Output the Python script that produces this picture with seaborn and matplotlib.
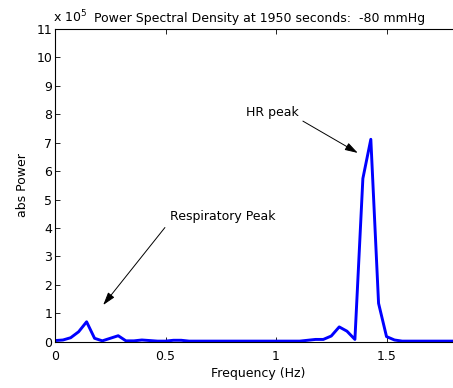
import matplotlib
matplotlib.use("Agg")
import matplotlib.pyplot as plt
import seaborn as sns
import pandas as pd

# Frequency bins (Hz) and PSD values (x 10^5)
freq_hz = [0.000, 0.036, 0.071, 0.107, 0.143, 0.179, 0.214, 0.250, 0.286, 0.321,
           0.357, 0.393, 0.429, 0.464, 0.500, 0.536, 0.571, 0.607, 0.643, 0.679,
           0.714, 0.750, 0.786, 0.821, 0.857, 0.893, 0.929, 0.964, 1.000, 1.036,
           1.071, 1.107, 1.143, 1.179, 1.214, 1.250, 1.286, 1.321, 1.357, 1.393,
           1.429, 1.464, 1.500, 1.536, 1.571, 1.607, 1.643, 1.679, 1.714, 1.750,
           1.786, 1.821, 1.857]
power_e5 = [0.04, 0.06, 0.14, 0.35, 0.70, 0.12, 0.03, 0.12, 0.21, 0.03,
            0.03, 0.06, 0.04, 0.02, 0.02, 0.05, 0.05, 0.02, 0.02, 0.02,
            0.02, 0.02, 0.02, 0.02, 0.02, 0.02, 0.02, 0.02, 0.02, 0.02,
            0.02, 0.02, 0.05, 0.08, 0.08, 0.20, 0.52, 0.37, 0.08, 5.74,
            7.12, 1.35, 0.18, 0.06, 0.02, 0.02, 0.02, 0.02, 0.02, 0.02,
            0.02, 0.02, 0.02]

x_ticks = [0, 0.5, 1, 1.5]
x_tick_labels = ["0", "0.5", "1", "1.5"]
y_ticks = list(range(0, 12))

df = pd.DataFrame({"freq": freq_hz, "power": power_e5})

sns.set_style("ticks")
plt.rcParams["font.family"] = ["DejaVu Sans"]
plt.rcParams["xtick.direction"] = "in"
plt.rcParams["ytick.direction"] = "in"
for k in ["text.color", "axes.labelcolor", "xtick.color", "ytick.color",
          "xtick.labelcolor", "ytick.labelcolor", "axes.edgecolor"]:
    plt.rcParams[k] = "black"
FS = 9

fig = plt.figure(figsize=(4.53, 3.88), dpi=100)
L, B = 55 / 453, 1 - 341.7 / 388
W = (461 - 55) / 453
H = (341.7 - 29) / 388
ax = fig.add_axes([L, B, W, H])

sns.lineplot(data=df, x="freq", y="power", ax=ax, color=(0, 0, 1), linewidth=2.1)

ax.set_xlim(0, 1.837)
ax.set_ylim(0, 11)
ax.set_xticks(x_ticks)
ax.set_xticklabels(x_tick_labels)
ax.set_yticks(y_ticks)
ax.tick_params(axis="both", labelsize=FS, length=3.5, width=0.6, colors="black",
               top=True, right=True)
ax.tick_params(axis="x", pad=6)
ax.tick_params(axis="y", pad=2)
for s in ax.spines.values():
    s.set_linewidth(0.8)
    s.set_color("black")

ax.set_xlabel("Frequency (Hz)", fontsize=FS, labelpad=3, color="black")
ax.set_ylabel("abs Power", fontsize=FS, labelpad=5, color="black")
ax.set_title("Power Spectral Density at 1950 seconds:  -80 mmHg", fontsize=FS, pad=5,
             x=0.505, color="black")
ax.text(-0.004, 1.012, r"x 10$^5$", transform=ax.transAxes, fontsize=FS,
        ha="left", va="bottom", color="black")

arrow_kw = dict(arrowstyle="-|>,head_length=0.65,head_width=0.2", color="black",
                lw=0.7, mutation_scale=12, shrinkB=0)
ax.annotate("HR peak", xy=(1.370, 6.64), xytext=(0.982, 8.08), fontsize=FS,
            ha="center", va="center", color="black",
            arrowprops=dict(relpos=(1.0, 0.0), shrinkA=1, **arrow_kw))
ax.annotate("Respiratory Peak", xy=(0.218, 1.29), xytext=(0.52, 4.42), fontsize=FS,
            ha="left", va="center", color="black",
            arrowprops=dict(relpos=(0, 0.1), shrinkA=2, **arrow_kw))

fig.savefig("out.png", dpi=100)
